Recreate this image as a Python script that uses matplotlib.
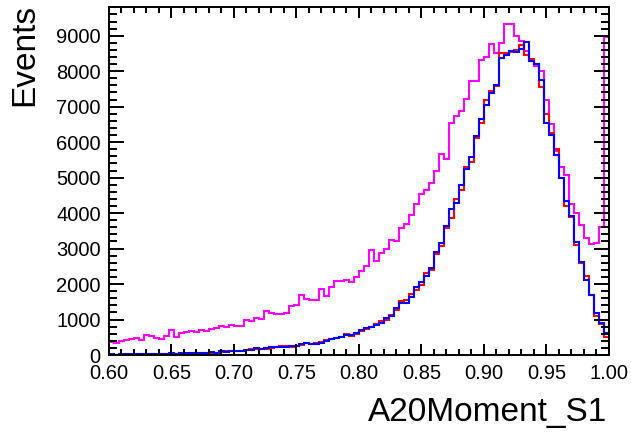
import numpy as np
import matplotlib
matplotlib.use("Agg")
import matplotlib.pyplot as plt
from matplotlib.ticker import MultipleLocator

plt.rcParams['font.family'] = ['Liberation Sans', 'DejaVu Sans']

# 100 bins, 0.60 -> 1.00
x_lo, x_hi, n_bins = 0.60, 1.00, 100

magenta = [377, 330, 400, 430, 450, 480, 430, 560, 530, 470,
           440, 540, 700, 520, 630, 640, 680, 650, 700, 670,
           740, 760, 820, 800, 845, 830, 830, 990, 970, 1030,
           1010, 1245, 1180, 1150, 1150, 1180, 1395, 1410, 1695, 1590,
           1555, 1560, 1855, 1665, 1930, 2090, 2090, 2120, 2045, 2210,
           2380, 2520, 2965, 2655, 2870, 2995, 3230, 3200, 3580, 3700,
           3955, 4265, 4550, 4660, 4850, 5180, 5680, 5530, 6545, 6735,
           6875, 7205, 7720, 7720, 8305, 8410, 8760, 8520, 8805, 9340,
           9340, 8990, 8850, 8570, 8300, 8160, 8000, 7200, 6525, 5745,
           5290, 5085, 4265, 4000, 3655, 3295, 3135, 3155, 3600, 8975]

red = [5, 8, 5, 10, 12, 8, 10, 15, 12, 18,
       15, 20, 40, 30, 35, 30, 40, 45, 50, 40,
       55, 70, 90, 110, 105, 125, 110, 135, 165, 175,
       180, 175, 200, 225, 250, 260, 240, 250, 290, 340,
       310, 330, 365, 420, 455, 475, 520, 580, 540, 600,
       680, 725, 790, 870, 960, 1000, 1120, 1260, 1520, 1560,
       1720, 1820, 1980, 2310, 2400, 2850, 3080, 3580, 3860, 4410,
       4650, 5300, 5450, 6130, 6550, 7180, 7450, 7580, 8500, 8500,
       8550, 8600, 8750, 8450, 8350, 8200, 7550, 6800, 6250, 5800,
       4990, 4200, 3880, 3100, 2590, 2220, 1700, 1100, 880, 520]

blue = [15, 10, 15, 20, 15, 20, 25, 20, 25, 30,
        25, 35, 45, 40, 50, 50, 55, 60, 55, 50,
        75, 60, 110, 95, 120, 115, 115, 140, 145, 205,
        170, 190, 215, 220, 235, 240, 265, 265, 300, 330,
        320, 310, 350, 405, 445, 470, 500, 555, 560, 610,
        705, 750, 800, 845, 915, 1035, 1100, 1320, 1460, 1480,
        1630, 1910, 2070, 2240, 2465, 2900, 3155, 3650, 4115, 4285,
        4800, 5245, 5575, 6165, 6640, 7060, 7390, 7625, 8380, 8445,
        8570, 8540, 8615, 8830, 8285, 8190, 7740, 6545, 6215, 5630,
        4990, 4350, 3905, 3175, 2610, 2120, 1695, 1195, 895, 630]

edges = np.linspace(x_lo, x_hi, n_bins + 1)

fig = plt.figure(figsize=(6.31, 4.32), dpi=100)
ax = fig.add_axes([0.1727, 0.1782, 0.7924, 0.8056])

lw = 1.5
ax.stairs(magenta, edges, baseline=None, color='#ff00ff', lw=lw)
ax.stairs(red, edges, baseline=None, color='#ff0000', lw=lw)
ax.stairs(blue, edges, baseline=None, color='#0000ff', lw=lw)

ax.set_xlim(x_lo, x_hi)
ax.set_ylim(0, 9810)

ax.xaxis.set_major_locator(MultipleLocator(0.05))
ax.xaxis.set_minor_locator(MultipleLocator(0.01))
ax.yaxis.set_major_locator(MultipleLocator(1000))
ax.yaxis.set_minor_locator(MultipleLocator(200))
ax.xaxis.set_major_formatter(plt.FuncFormatter(lambda v, p: f"{v:.2f}"))

ax.tick_params(axis='both', which='both', direction='in', top=True, right=True,
               width=1.4, color='black', labelsize=14.5)
ax.tick_params(axis='x', which='major', length=8, pad=6.5)
ax.tick_params(axis='x', which='minor', length=4.3)
ax.tick_params(axis='y', which='major', length=10.8, pad=6)
ax.tick_params(axis='y', which='minor', length=5.5)

for s in ax.spines.values():
    s.set_linewidth(1.4)

fig.text(0.962, 0.025, "A20Moment_S1", ha='right', va='baseline', fontsize=24)
fig.text(0.015, 0.99, "Events", rotation=90, ha='left', va='top', fontsize=24)

fig.savefig("out.png", dpi=100)
